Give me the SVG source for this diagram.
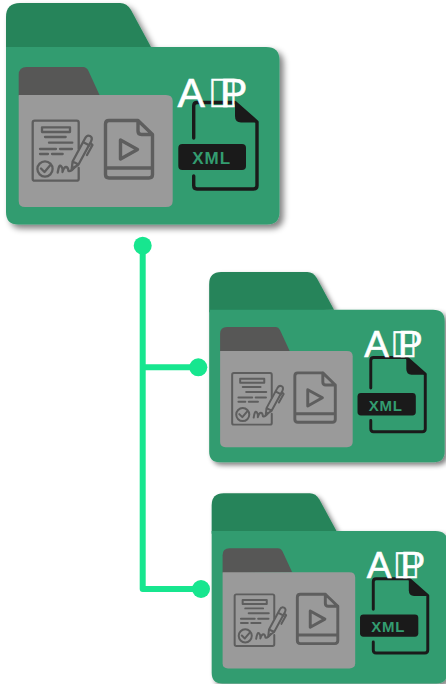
<svg xmlns="http://www.w3.org/2000/svg" width="446" height="684" viewBox="0 0 446 684">
<style>
.aip{font-family:"Liberation Sans",sans-serif;fill:#fff;stroke:#fff;stroke-width:.6}
.xml{font-family:"Liberation Sans",sans-serif;font-weight:700;fill:#339c70;text-anchor:middle}
.ic{fill:none;stroke:#5e5e5e;stroke-linecap:round;stroke-linejoin:round;stroke-width:2.3}
.ic3{fill:none;stroke:#5e5e5e;stroke-linecap:round;stroke-linejoin:round;stroke-width:3.4}
.conn{fill:none;stroke:#17e68f;stroke-width:6;stroke-linejoin:round;stroke-linecap:round}
.dot{fill:#17e68f}
</style>
<defs>
<filter id="sh" x="-10%" y="-10%" width="125%" height="125%">
<feGaussianBlur in="SourceAlpha" stdDeviation="3"/>
<feOffset dx="3.5" dy="3.5"/>
<feComponentTransfer><feFuncA type="linear" slope=".5"/></feComponentTransfer>
<feMerge><feMergeNode/><feMergeNode in="SourceGraphic"/></feMerge>
</filter>
<g id="art">
<g filter="url(#sh)">
<path fill="#26845a" d="M6 50V17Q6 3 20 3H120Q127 3 131 10L151 47Z"/>
<path fill="#339c70" d="M6 47H266Q279.5 47 279.5 60V212Q279.5 224.5 267 224.5H18Q6 224.5 6 212Z"/>
</g>
<path fill="#575756" d="M18.7 96V75Q18.7 67 26.7 67H83Q86.5 67 88.5 71L99.5 95Z"/>
<path fill="#9a9a9a" d="M18.7 95H166Q172.7 95 172.7 101V201Q172.7 207 166 207H25Q18.7 207 18.7 201Z"/>
<path class="ic" d="M78.7 149V122.7Q78.7 120.7 76.7 120.7H34.7Q32.7 120.7 32.7 122.7V178.7Q32.7 180.7 34.7 180.7H76.7Q78.7 180.7 78.7 178.7V168"/>
<path class="ic" d="M42 127.3H70V132H42ZM45 137H65.7M49 142.7H72.3M40 149H56M60 149H72M40 154H48M52 154H62.7"/>
<circle class="ic" cx="45" cy="169" r="7.6"/>
<path class="ic" d="M41 168.5L44.5 172L50 165.5M57.7 172.5Q59 164 61 166T62.5 172Q64 167 66 167T68.5 171Q71 172 74.5 167"/>
<path class="ic" d="M71.7 169.5L72.6 161.5L85 138.5Q87 134.5 90 136T91 141.5L78.5 164.5ZM72.6 161.5L78.5 164.5M83 142L89.5 145.5M90.5 143L92.5 145L87 155"/>
<path class="ic3" d="M138 120.5H109Q105.5 120.5 105.5 124V174.5Q105.5 178 109 178H149Q152.5 178 152.5 174.5V134.5L138 120.5V131Q138 134.5 141.5 134.5H152.5M105.5 168H152.5M120.5 140L137.5 149.5L120.5 159Z"/>
<path fill="none" stroke="#1a1a1a" stroke-width="3.4" stroke-linecap="round" stroke-linejoin="round" d="M193.7 138V106Q193.7 102.5 197 102.5H235L257 122V185.5Q257 189 253.5 189H197Q193.7 189 193.7 185.5V176"/>
<path fill="#1a1a1a" d="M235 102L258 122.5H241Q235 122.5 235 116Z"/>
<rect x="178.3" y="144" width="67.7" height="26" rx="4" fill="#1a1a1a"/>
</g>
</defs>
<g id="connectors">
<path class="conn" d="M142.7 246V589H201M142.7 367.3H198"/>
<circle class="dot" cx="142.7" cy="245.7" r="9"/>
<circle class="dot" cx="198.3" cy="367.3" r="9"/>
<circle class="dot" cx="201" cy="589" r="9"/>
</g>
<g id="folder-main">
<use href="#art"/>
<text class="aip" font-size="41" y="106.7" x="177.5 207.5 220">A&#xE000;P</text>
<text class="xml" x="211.7" y="163.5" font-size="17" letter-spacing="1">XML</text>
</g>
<g id="folder-a">
<use href="#art" transform="translate(204 269.4) scale(.861 .859)"/>
<text class="aip" font-size="37" y="356.7" x="364.3 390 398">A&#xE000;P</text>
<text class="xml" x="385.7" y="411" font-size="15" letter-spacing=".7">XML</text>
</g>
<g id="folder-b">
<use href="#art" transform="translate(206.5 490.7) scale(.861 .859)"/>
<text class="aip" font-size="37" y="577.7" x="366.8 392.5 400.5">A&#xE000;P</text>
<text class="xml" x="388.2" y="632" font-size="15" letter-spacing=".7">XML</text>
</g>
</svg>
